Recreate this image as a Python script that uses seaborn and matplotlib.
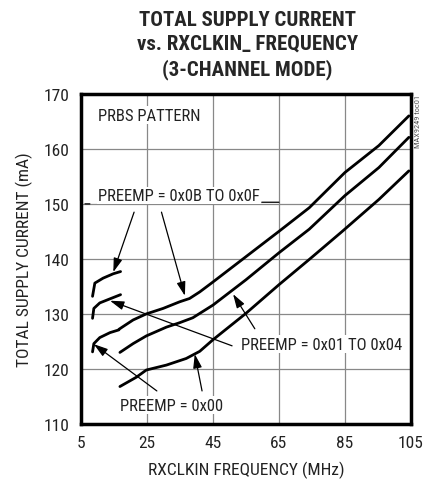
import matplotlib
matplotlib.use("Agg")
import matplotlib.pyplot as plt
import seaborn as sns
import pandas as pd

# frequency (MHz) and total supply current (mA)
pre0b_low_f = [8.5, 9.2, 11.7, 14.8, 17.0]
pre0b_low_i = [133.2, 135.6, 136.5, 137.3, 137.7]

pre01_low_f = [8.5, 8.9, 10.7, 13.2, 17.0]
pre01_low_i = [129.2, 131.0, 132.0, 132.6, 133.5]

pre00_low_f = [8.5, 8.9, 10.7, 13.8, 16.5]
pre00_low_i = [123.1, 124.6, 125.7, 126.6, 127.1]

pre0b_high_f = [16.5, 17.5, 20.8, 24.8, 29.9, 34.9, 37.9, 41.0, 45.0, 55.0, 65.0, 74.2, 85.0, 95.3, 104.4]
pre0b_high_i = [127.2, 127.6, 128.9, 130.0, 131.0, 132.2, 132.8, 134.0, 135.8, 140.4, 145.0, 149.3, 155.7, 160.6, 166.0]

pre01_high_f = [16.8, 20.8, 24.8, 30.9, 34.9, 38.9, 45.0, 55.0, 65.0, 74.2, 85.0, 95.3, 104.4]
pre01_high_i = [123.0, 124.6, 126.0, 127.6, 128.4, 129.3, 131.6, 136.2, 141.1, 145.4, 151.5, 156.6, 162.1]

pre00_high_f = [16.8, 21.8, 24.8, 30.9, 36.9, 41.0, 45.0, 55.0, 65.0, 74.2, 84.2, 95.3, 104.4]
pre00_high_i = [116.8, 118.5, 119.8, 120.7, 121.9, 123.2, 125.3, 130.1, 135.3, 139.9, 145.0, 150.8, 156.0]

x_ticks = [5, 25, 45, 65, 85, 105]
y_ticks = [110, 120, 130, 140, 150, 160, 170]

segments = {
    "0x0B low": (pre0b_low_f, pre0b_low_i),
    "0x01 low": (pre01_low_f, pre01_low_i),
    "0x00 low": (pre00_low_f, pre00_low_i),
    "0x0B high": (pre0b_high_f, pre0b_high_i),
    "0x01 high": (pre01_high_f, pre01_high_i),
    "0x00 high": (pre00_high_f, pre00_high_i),
}
rows = []
for name, (f, cur) in segments.items():
    for a, b in zip(f, cur):
        rows.append({"seg": name, "freq": a, "current": b})
df = pd.DataFrame(rows)

sns.set_style("white")
plt.rcParams["font.family"] = ["Roboto Condensed", "DejaVu Sans"]

fig = plt.figure(figsize=(4.24, 4.89), dpi=100)
ax = fig.add_axes([0.191, 0.131, 0.778, 0.675])

sns.lineplot(data=df, x="freq", y="current", units="seg", estimator=None,
             color="black", lw=2.0, sort=False, ax=ax)

ax.set_xlim(5, 105)
ax.set_ylim(110, 170)
ax.set_xticks(x_ticks)
ax.set_yticks(y_ticks)
ax.tick_params(length=0, labelsize=12.5, pad=8, colors="#222222")
ax.grid(True, color="#888888", lw=0.9)
ax.set_axisbelow(True)
for s in ax.spines.values():
    s.set_visible(True)
    s.set_color("black")
    s.set_linewidth(2.5)

ax.set_xlabel("RXCLKIN FREQUENCY (MHz)", fontsize=12.5, labelpad=8, color="#222222")
ax.set_ylabel("TOTAL SUPPLY CURRENT (mA)", fontsize=12.5, labelpad=8, color="#222222")

fig.text(0.584, 0.978, "TOTAL SUPPLY CURRENT\nvs. RXCLKIN_ FREQUENCY\n(3-CHANNEL MODE)",
         ha="center", va="top", fontsize=15, fontweight="bold", linespacing=1.33)

box = dict(facecolor="white", edgecolor="none", pad=1)
tfs = 12
ax.text(10.2, 166.1, "PRBS PATTERN", fontsize=tfs, va="center", ha="left", bbox=box, color="#222222")
ax.text(10.2, 151.5, "PREEMP = 0x0B TO 0x0F", fontsize=tfs, va="center", ha="left", bbox=box, color="#222222")
ax.text(53.5, 124.5, "PREEMP = 0x01 TO 0x04", fontsize=tfs, va="center", ha="left", bbox=box, color="#222222")
ax.text(16.8, 113.4, "PREEMP = 0x00", fontsize=tfs, va="center", ha="left", bbox=box, color="#222222")

# short leader strokes on either side of the 0x0B label
leader = dict(arrowstyle="-", color="black", lw=0.9, shrinkA=0, shrinkB=0)
ax.annotate("", xy=(7.7, 150.0), xytext=(6.2, 150.0), arrowprops=leader)
ax.annotate("", xy=(65.0, 150.3), xytext=(59.8, 150.3), arrowprops=leader)

arrow = dict(arrowstyle="-|>,head_length=0.7,head_width=0.22", color="black",
             lw=0.9, mutation_scale=12, shrinkA=0, shrinkB=0)
pointers = [
    ((21.1, 148.5), (14.8, 137.6)),
    ((29.4, 148.5), (36.5, 133.3)),
    ((50.8, 124.2), (13.8, 132.4)),
    ((57.7, 127.3), (51.1, 133.6)),
    ((28.0, 116.0), (8.9, 124.5)),
    ((41.7, 116.0), (39.5, 122.7)),
]
for tail, tip in pointers:
    ax.annotate("", xy=tip, xytext=tail, arrowprops=arrow)

fig.text(0.986, 0.806, "MAX9249 toc01", rotation=90, ha="center", va="top",
         fontsize=6, color="#555555")

fig.savefig("out.png", dpi=100)
